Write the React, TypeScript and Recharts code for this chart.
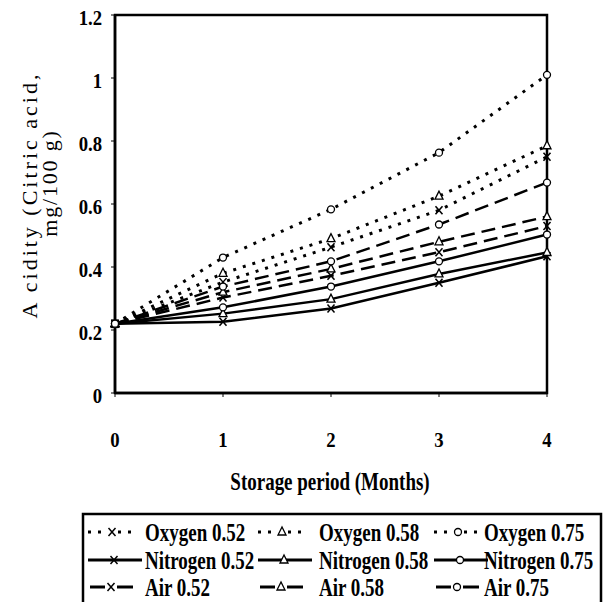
import React from 'react';
import { LineChart, Line, XAxis, YAxis, ReferenceArea, Legend } from 'recharts';

const months = [0, 1, 2, 3, 4];
const yTicks = [0, 0.2, 0.4, 0.6, 0.8, 1, 1.2];

const oxygen052 = [0.22, 0.352, 0.463, 0.58, 0.75];
const oxygen058 = [0.22, 0.38, 0.49, 0.625, 0.785];
const oxygen075 = [0.22, 0.43, 0.583, 0.763, 1.01];
const nitrogen052 = [0.22, 0.226, 0.268, 0.35, 0.434];
const nitrogen058 = [0.22, 0.252, 0.298, 0.378, 0.446];
const nitrogen075 = [0.22, 0.272, 0.338, 0.418, 0.503];
const air052 = [0.22, 0.303, 0.372, 0.447, 0.53];
const air058 = [0.22, 0.32, 0.394, 0.48, 0.56];
const air075 = [0.22, 0.338, 0.418, 0.535, 0.668];

type Marker = 'x' | 'triangle' | 'circle';
type LineKind = 'dotted' | 'solid' | 'dashed';

const series: { key: string; name: string; values: number[]; kind: LineKind; marker: Marker }[] = [
  { key: 'oxygen052', name: 'Oxygen 0.52', values: oxygen052, kind: 'dotted', marker: 'x' },
  { key: 'oxygen058', name: 'Oxygen 0.58', values: oxygen058, kind: 'dotted', marker: 'triangle' },
  { key: 'oxygen075', name: 'Oxygen 0.75', values: oxygen075, kind: 'dotted', marker: 'circle' },
  { key: 'nitrogen052', name: 'Nitrogen 0.52', values: nitrogen052, kind: 'solid', marker: 'x' },
  { key: 'nitrogen058', name: 'Nitrogen 0.58', values: nitrogen058, kind: 'solid', marker: 'triangle' },
  { key: 'nitrogen075', name: 'Nitrogen 0.75', values: nitrogen075, kind: 'solid', marker: 'circle' },
  { key: 'air052', name: 'Air 0.52', values: air052, kind: 'dashed', marker: 'x' },
  { key: 'air058', name: 'Air 0.58', values: air058, kind: 'dashed', marker: 'triangle' },
  { key: 'air075', name: 'Air 0.75', values: air075, kind: 'dashed', marker: 'circle' },
];

const data = months.map((m, i) => {
  const row: Record<string, number> = { month: m };
  series.forEach((s) => {
    row[s.key] = s.values[i];
  });
  return row;
});

const FONT = '"Liberation Serif", "Times New Roman", serif';

function MarkerShape({ cx, cy, marker }: { cx: number; cy: number; marker: Marker }) {
  if (marker === 'x') {
    return (
      <g stroke="#000" strokeWidth={1.5}>
        <line x1={cx - 3.5} y1={cy - 4} x2={cx + 3.5} y2={cy + 4} />
        <line x1={cx + 3.5} y1={cy - 4} x2={cx - 3.5} y2={cy + 4} />
      </g>
    );
  }
  if (marker === 'triangle') {
    return (
      <polygon
        points={`${cx},${cy - 5} ${cx - 4},${cy + 3} ${cx + 4},${cy + 3}`}
        fill="#fff"
        stroke="#000"
        strokeWidth={1.3}
      />
    );
  }
  return <circle cx={cx} cy={cy} r={3.5} fill="#fff" stroke="#000" strokeWidth={1.3} />;
}

const makeDot = (marker: Marker) => (props: any) => {
  const { cx, cy, index } = props;
  if (cx == null || cy == null) return <g key={`d-${index}`} />;
  return (
    <g key={`d-${marker}-${index}`}>
      <MarkerShape cx={cx} cy={cy} marker={marker} />
    </g>
  );
};

const lineStyle = (kind: LineKind) => {
  if (kind === 'dotted') return { strokeWidth: 3, strokeDasharray: '3 7' };
  if (kind === 'dashed') return { strokeWidth: 2.5, strokeDasharray: '14 7' };
  return { strokeWidth: 2.5 };
};

const fmt = (v: number) => (v === 0 ? '0' : v === 1 ? '1' : String(Number(v.toFixed(1))));

const YTick = (props: any) => {
  const { x, y, payload } = props;
  return (
    <g transform={`translate(${x},${y + 10})`}>
      <text
        x={0}
        y={0}
        textAnchor="end"
        transform="scale(0.85,1)"
        fontFamily={FONT}
        fontWeight="bold"
        fontSize={22}
        fill="#000"
      >
        {fmt(payload.value)}
      </text>
    </g>
  );
};

const XTick = (props: any) => {
  const { x, y, payload } = props;
  return (
    <g transform={`translate(${x},${y + 48})`}>
      <text
        x={0}
        y={0}
        textAnchor="middle"
        transform="scale(0.85,1)"
        fontFamily={FONT}
        fontWeight="bold"
        fontSize={22}
        fill="#000"
      >
        {String(payload.value)}
      </text>
    </g>
  );
};

const XTitle = (props: any) => {
  const vb = props.viewBox || { x: 115, width: 432 };
  const cx = vb.x + vb.width / 2 - 1;
  return (
    <g transform={`translate(${cx},490)`}>
      <text
        x={0}
        y={0}
        textAnchor="middle"
        transform="scale(0.76,1)"
        fontFamily={FONT}
        fontWeight="bold"
        fontSize={25}
        fill="#000"
      >
        Storage period (Months)
      </text>
    </g>
  );
};

const YTitle = () => (
  <g>
    <text
      transform="translate(37,195) rotate(-90)"
      textAnchor="middle"
      fontFamily={FONT}
      fontSize={22}
      letterSpacing={3}
      fill="#000"
    >
      A cidity (Citric acid,
    </text>
    <text
      transform="translate(57,183) rotate(-90)"
      textAnchor="middle"
      fontFamily={FONT}
      fontSize={22}
      letterSpacing={1.8}
      fill="#000"
    >
      mg/100 g)
    </text>
  </g>
);

const colX = [88, 258, 434];
const textX = [145, 319, 484];
const rowY = [532, 560, 587];

const LegendSymbol = ({ x, y, kind, marker }: { x: number; y: number; kind: LineKind; marker: Marker }) => {
  if (kind === 'dashed') {
    return (
      <g>
        <line x1={x + 2} y1={y} x2={x + 17} y2={y} stroke="#000" strokeWidth={3} />
        <line x1={x + 29} y1={y} x2={x + 45} y2={y} stroke="#000" strokeWidth={3} />
        <MarkerShape cx={x + 23} cy={y} marker={marker} />
      </g>
    );
  }
  if (kind === 'dotted') {
    return (
      <g>
        <line x1={x} y1={y} x2={x + 50} y2={y} stroke="#000" strokeWidth={3} strokeDasharray="3 7" />
        <rect x={x + 18} y={y - 6} width={12} height={12} fill="#fff" />
        <MarkerShape cx={x + 24} cy={y} marker={marker} />
      </g>
    );
  }
  return (
    <g>
      <line x1={x} y1={y} x2={x + 54} y2={y} stroke="#000" strokeWidth={3} />
      <MarkerShape cx={x + 26} cy={y} marker={marker} />
    </g>
  );
};

const LegendContent = () => (
  <svg width={609} height={602} style={{ position: 'absolute', left: 0, top: 0 }}>
    <rect x={83} y={514} width={518} height={100} fill="none" stroke="#000" strokeWidth={2.5} />
    {series.map((s, i) => {
      const row = Math.floor(i / 3);
      const col = i % 3;
      const y = rowY[row];
      return (
        <g key={s.key}>
          <LegendSymbol x={colX[col]} y={y} kind={s.kind} marker={s.marker} />
          <g transform={`translate(${textX[col]},${y + 9})`}>
            <text
              x={0}
              y={0}
              transform="scale(0.73,1)"
              fontFamily={FONT}
              fontWeight="bold"
              fontSize={26}
              fill="#000"
            >
              {s.name}
            </text>
          </g>
        </g>
      );
    })}
  </svg>
);

export default function App() {
  return (
    <div style={{ position: 'absolute', left: 0, top: 0, width: 609, height: 602, background: '#fff' }}>
      <LineChart
        width={609}
        height={602}
        data={data}
        margin={{ top: 15, right: 62, left: 55, bottom: 149 }}
      >
        <ReferenceArea
          x1={0}
          x2={4}
          y1={0}
          y2={1.2}
          fill="none"
          stroke="#000"
          strokeWidth={2.5}
          ifOverflow="visible"
        />
        <XAxis
          dataKey="month"
          type="number"
          domain={[0, 4]}
          ticks={months}
          height={60}
          axisLine={{ stroke: '#000', strokeWidth: 2.5 }}
          tickLine={{ stroke: '#000' }}
          tickSize={4}
          tick={<XTick />}
          label={{ content: <XTitle /> }}
        />
        <YAxis
          type="number"
          domain={[0, 1.2]}
          ticks={yTicks}
          width={60}
          axisLine={{ stroke: '#000', strokeWidth: 2.5 }}
          tickLine={{ stroke: '#000' }}
          tickSize={4}
          tickMargin={9}
          tick={<YTick />}
          label={{ content: <YTitle /> }}
        />
        <Legend
          layout="horizontal"
          verticalAlign="middle"
          align="center"
          content={<LegendContent />}
          wrapperStyle={{ position: 'absolute', left: 0, top: 0, width: 609, height: 602, pointerEvents: 'none' }}
        />
        {series.map((s) => (
          <Line
            key={s.key}
            dataKey={s.key}
            name={s.name}
            type="linear"
            stroke="#000"
            {...lineStyle(s.kind)}
            dot={makeDot(s.marker)}
            activeDot={false}
            isAnimationActive={false}
          />
        ))}
      </LineChart>
    </div>
  );
}
